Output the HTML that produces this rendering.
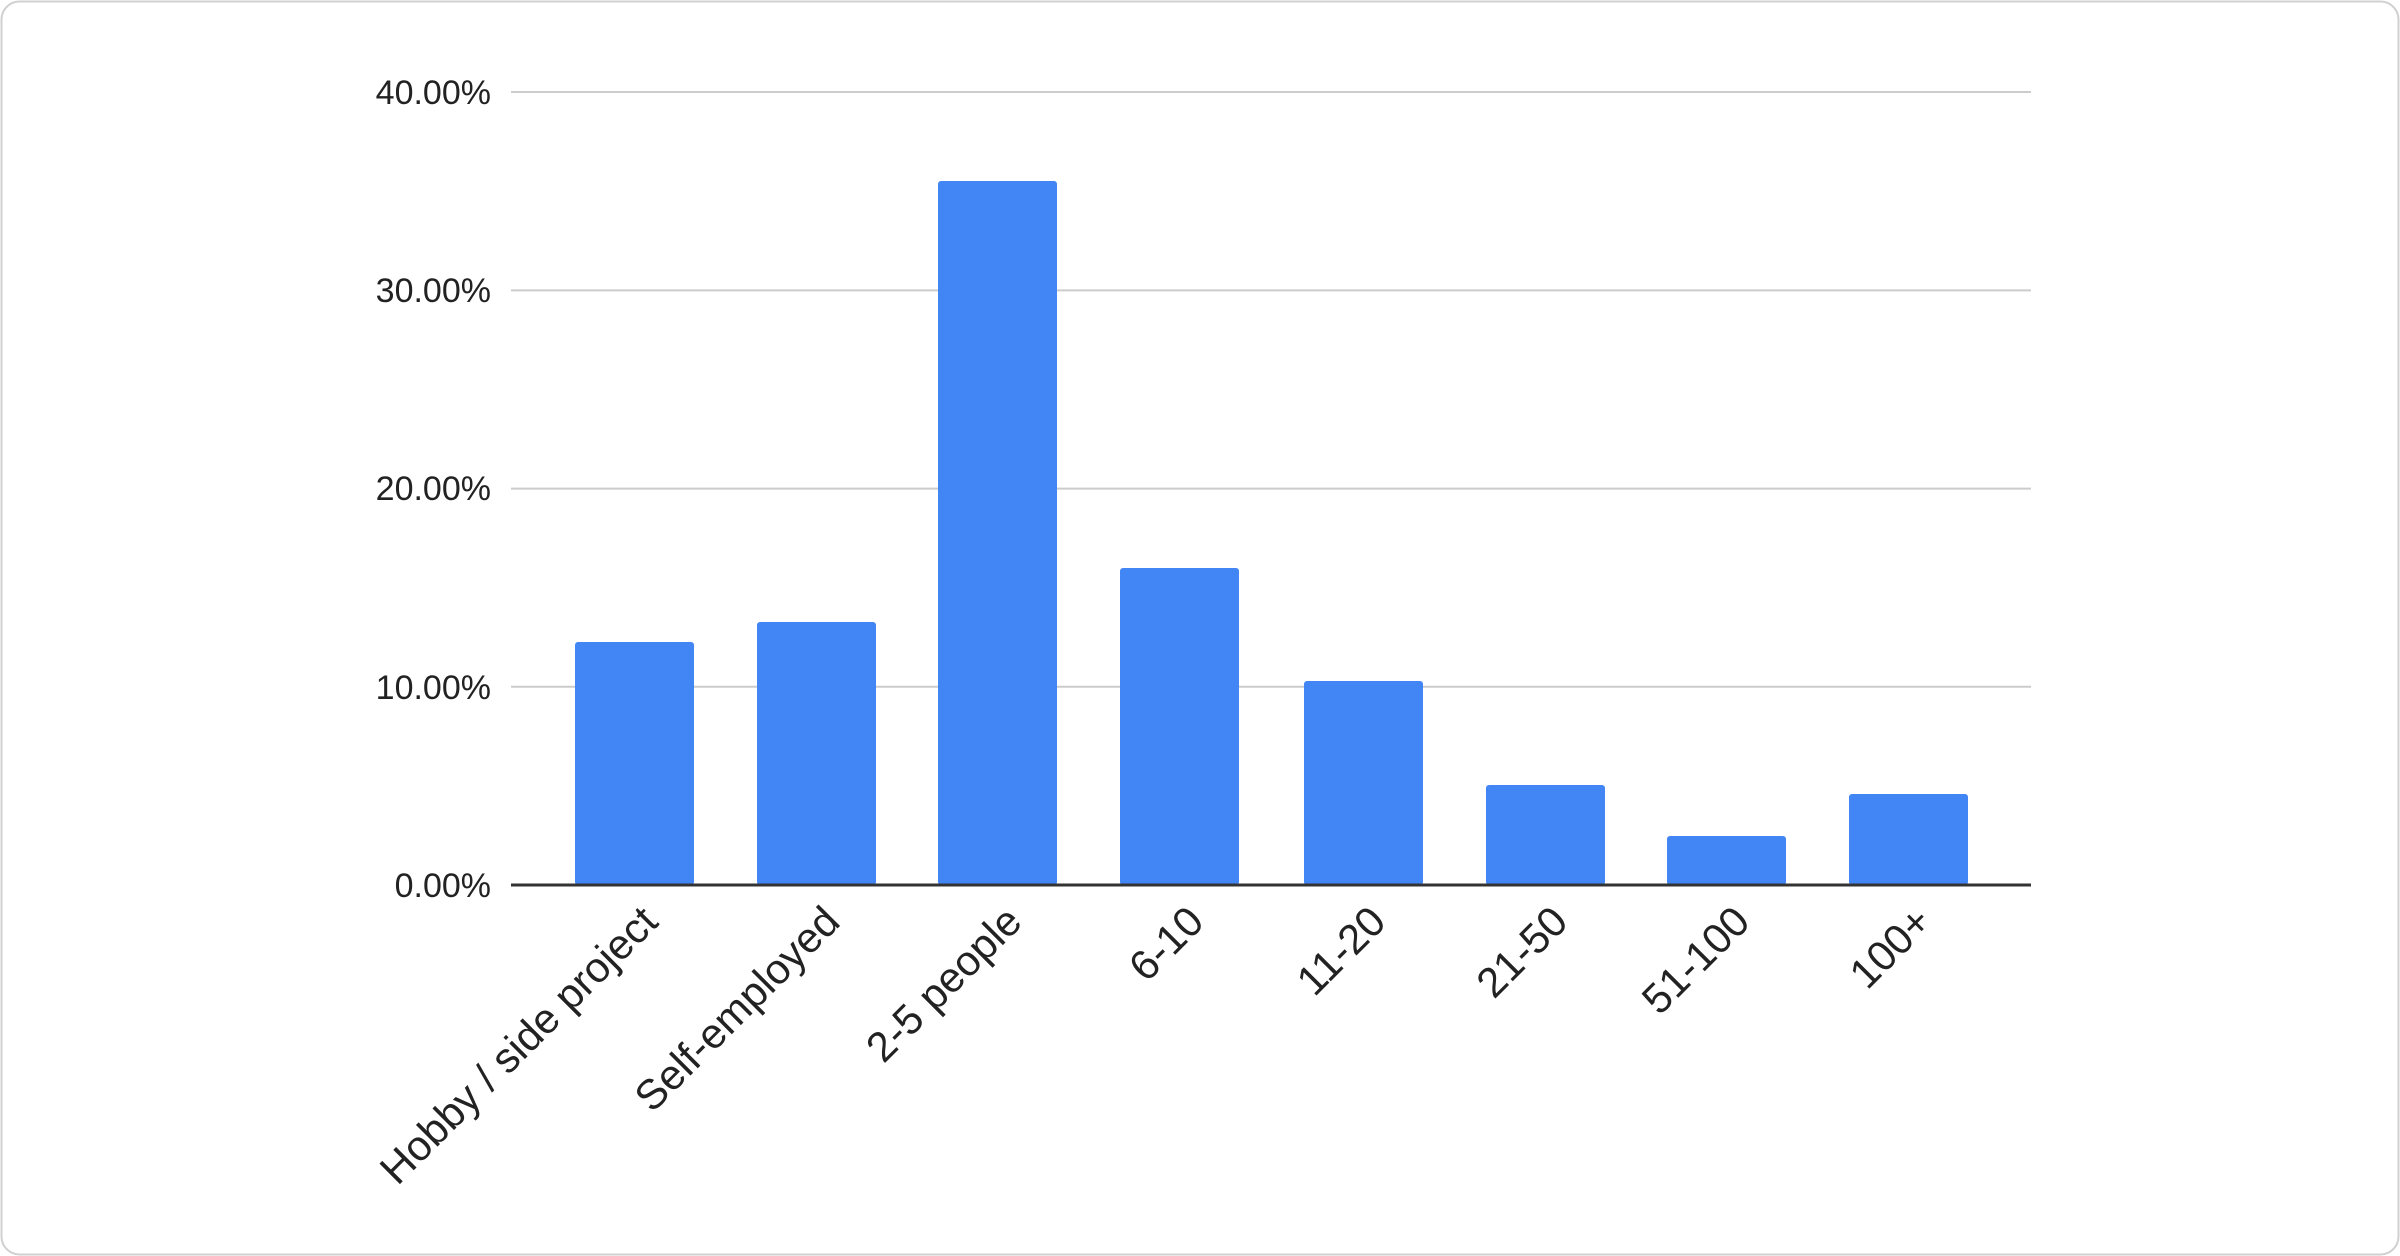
<!DOCTYPE html>
<html><head><style>
html,body{margin:0;padding:0;background:#fff;}
svg{display:block;}
text{font-family:"Liberation Sans",Arial,sans-serif;fill:#222;}
</style></head><body>
<svg width="2400" height="1256" viewBox="0 0 2400 1256">
<rect x="1.5" y="1.5" width="2397" height="1253" rx="18" fill="#fff" stroke="#d0d0d0" stroke-width="2"/>
<g stroke="#cccccc" stroke-width="2">
<line x1="511" x2="2031" y1="92" y2="92"/>
<line x1="511" x2="2031" y1="290.4" y2="290.4"/>
<line x1="511" x2="2031" y1="488.6" y2="488.6"/>
<line x1="511" x2="2031" y1="686.8" y2="686.8"/>
</g>
<g font-size="34" text-anchor="end">
<text x="491" y="104">40.00%</text>
<text x="491" y="302">30.00%</text>
<text x="491" y="500">20.00%</text>
<text x="491" y="699">10.00%</text>
<text x="491" y="897">0.00%</text>
</g>
<g fill="#4285f4">
<rect x="575" y="642" width="119" height="243" rx="3"/>
<rect x="757" y="622" width="119" height="263" rx="3"/>
<rect x="938" y="181" width="119" height="704" rx="3"/>
<rect x="1120" y="568" width="119" height="317" rx="3"/>
<rect x="1304" y="681" width="119" height="204" rx="3"/>
<rect x="1486" y="785" width="119" height="100" rx="3"/>
<rect x="1667" y="836" width="119" height="49" rx="3"/>
<rect x="1849" y="794" width="119" height="91" rx="3"/>
</g>
<line x1="511" x2="2031" y1="885" y2="885" stroke="#333" stroke-width="3"/>
<g font-size="42" text-anchor="end">
<text transform="translate(660,924) rotate(-45)">Hobby / side project</text>
<text transform="translate(842,924) rotate(-45)">Self-employed</text>
<text transform="translate(1024,924) rotate(-45)">2-5 people</text>
<text transform="translate(1206,924) rotate(-45)">6-10</text>
<text transform="translate(1388,924) rotate(-45)">11-20</text>
<text transform="translate(1570,924) rotate(-45)">21-50</text>
<text transform="translate(1752,924) rotate(-45)">51-100</text>
<text transform="translate(1934,924) rotate(-45)">100+</text>
</g>
</svg>
</body></html>
